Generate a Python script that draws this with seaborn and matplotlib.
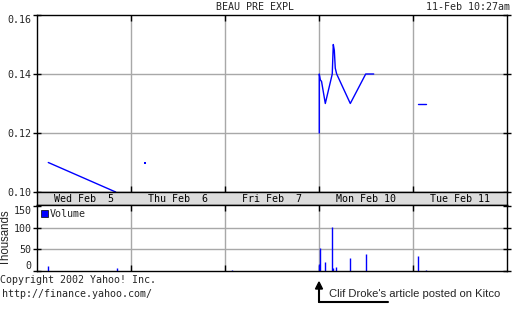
import matplotlib
matplotlib.use("Agg")
import matplotlib.pyplot as plt
from matplotlib.patches import Patch, FancyArrow
import seaborn as sns
import pandas as pd

sns.set_theme(style="white")
plt.rcParams['font.family'] = ['DejaVu Sans Mono', 'DejaVu Sans']

# ---- data (x in trading days from Wed Feb 5 open) ----
day_labels = ["Wed Feb  5", "Thu Feb  6", "Fri Feb  7", "Mon Feb 10", "Tue Feb 11"]
price_segment = [0, 0,
                 2, 2, 2, 2, 2, 2, 2, 2, 2, 2, 2, 2, 2,
                 3, 3]
price_x = [0.120, 0.837,
           3.003, 3.003, 3.014, 3.027, 3.067, 3.141, 3.152, 3.163, 3.173, 3.188, 3.333, 3.497, 3.582,
           4.053, 4.135]
price_y = [0.110, 0.100,
           0.120, 0.140, 0.138, 0.1375, 0.130, 0.140, 0.150, 0.148, 0.142, 0.140, 0.130, 0.140, 0.140,
           0.130, 0.130]
thu_x = [1.152]
thu_y = [0.110]

vol_x = [0.120, 0.854, 2.078, 3.003, 3.014, 3.067, 3.141, 3.152, 3.184, 3.333, 3.503, 4.056, 4.135]
vol_k = [12, 7, 3, 16, 53, 21, 101, 7, 9, 30, 39, 35, 2]

price_yticks = [0.10, 0.12, 0.14, 0.16]
vol_yticks = [0, 50, 100, 150]

BLUE = "#0000ff"
GRID = "#a8a8a8"
W, H = 512, 310

fig = plt.figure(figsize=(W / 100, H / 100), dpi=100)
fig.patch.set_facecolor("white")

def rect(x0, y0, x1, y1):
    return [x0 / W, 1 - y1 / H, (x1 - x0) / W, (y1 - y0) / H]

axp = fig.add_axes(rect(37, 15, 507, 192))
axb = fig.add_axes(rect(37, 192, 507, 205))
axv = fig.add_axes(rect(37, 205, 507, 271))

# price
dfp = pd.DataFrame({"x": price_x, "y": price_y, "seg": price_segment})
sns.lineplot(data=dfp, x="x", y="y", units="seg", estimator=None, sort=False,
             color=BLUE, lw=1, ax=axp, legend=False)
sns.scatterplot(x=thu_x, y=thu_y, color=BLUE, s=1.5, marker="s", linewidth=0, ax=axp)
axp.set_xlim(0, 5)
axp.set_ylim(0.10, 0.16)
axp.set_yticks(price_yticks)
axp.set_yticklabels([f"{v:.2f}" for v in price_yticks])
axp.get_yticklabels()[-1].set_va("top")
axp.set_xticks([1, 2, 3, 4])
axp.set_xticklabels([])
for v in [0.12, 0.14]:
    axp.axhline(v, color=GRID, lw=1, zorder=0)
for d in [1, 2, 3, 4]:
    axp.axvline(d, color=GRID, lw=1, zorder=0)
axp.set_xlabel("")
axp.set_ylabel("")

# band
axb.set_facecolor("#dcdcdc")
axb.set_xlim(0, 5)
axb.set_ylim(0, 1)
axb.set_xticks([])
axb.set_yticks([])
for i, lab in enumerate(day_labels):
    axb.text(i + 0.5, 0.45, lab, ha="center", va="center", fontsize=7.2, color="black")

# volume
axv.vlines(vol_x, 0, vol_k, color=BLUE, lw=1)
axv.set_xlim(0, 5)
axv.set_ylim(0, 152)
axv.set_yticks(vol_yticks)
axv.set_yticklabels([str(v) for v in vol_yticks])
axv.get_yticklabels()[0].set_va("bottom")
axv.get_yticklabels()[-1].set_va("top")
axv.set_xticks([1, 2, 3, 4])
axv.set_xticklabels([])
for v in [50, 100]:
    axv.axhline(v, color=GRID, lw=1, zorder=0)
for d in [1, 2, 3, 4]:
    axv.axvline(d, color=GRID, lw=1, zorder=0)
axv.set_ylabel("Thousands", fontsize=8.3, labelpad=1, family="Liberation Sans")
axv.legend(handles=[Patch(facecolor=BLUE, edgecolor="black", lw=0.5, label="Volume")],
           loc="upper left", frameon=False, fontsize=7.2, handlelength=0.7,
           handleheight=0.7, handletextpad=0.2, borderaxespad=0.2, borderpad=0.2)

for ax in (axp, axb, axv):
    for s in ax.spines.values():
        s.set_color("black")
        s.set_linewidth(1)
        s.set_visible(True)
for ax in (axp, axv):
    ax.tick_params(axis="x", which="both", direction="in", length=4, width=1,
                   top=True, bottom=True, color="black")
    ax.tick_params(axis="y", which="both", direction="inout", length=6, width=1,
                   left=True, right=True, color="black", labelsize=7.2, pad=1)

# texts
fig.text(255 / W, 1 - 7.5 / H, "BEAU PRE EXPL", ha="center", va="center", fontsize=7.2)
fig.text(510 / W, 1 - 7.5 / H, "11-Feb 10:27am", ha="right", va="center", fontsize=7.2)
fig.text(0 / W, 1 - 280 / H, "Copyright 2002 Yahoo! Inc.", ha="left", va="center", fontsize=7.2)
fig.text(2 / W, 1 - 294 / H, "http://finance.yahoo.com/", ha="left", va="center", fontsize=7.2)

# annotation arrow
fig.add_artist(plt.Line2D([319 / W, 319 / W], [1 - 302 / H, 1 - 288 / H], color="black", lw=1.5))
fig.add_artist(plt.Line2D([319 / W, 388 / W], [1 - 302 / H, 1 - 302 / H], color="black", lw=1.5))
fig.add_artist(FancyArrow(319 / W, 1 - 290 / H, 0, 8 / H, width=0.0005,
                          head_width=7 / W, head_length=7 / H,
                          length_includes_head=True, color="black",
                          transform=fig.transFigure))
fig.text(329 / W, 1 - 294 / H, "Clif Droke's article posted on Kitco", ha="left", va="center",
         fontsize=8.1, family="Liberation Sans")

fig.savefig("out.png", dpi=100)
